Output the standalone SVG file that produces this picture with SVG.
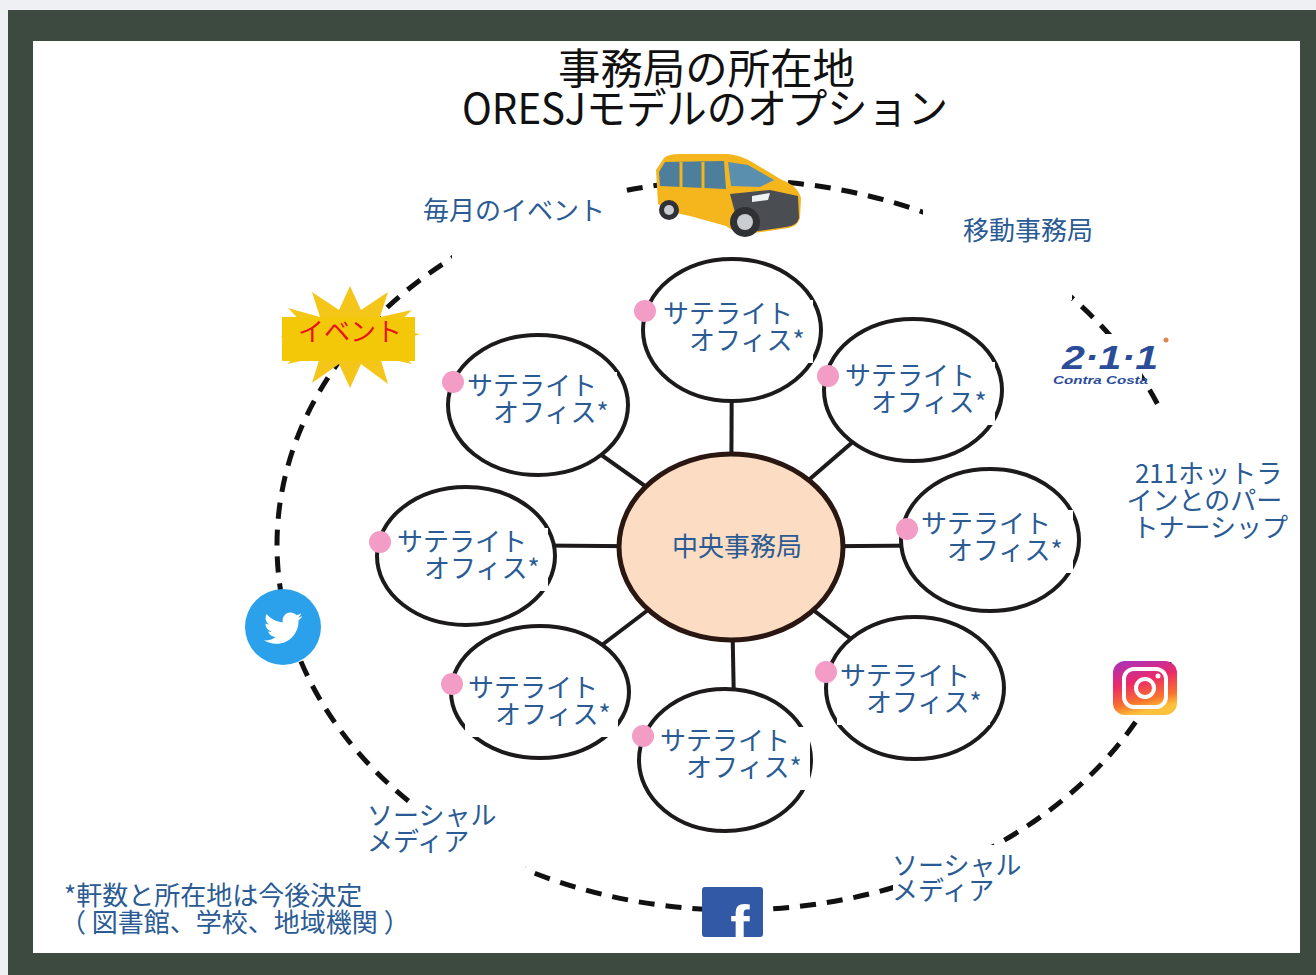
<svg xmlns="http://www.w3.org/2000/svg" width="1316" height="975" viewBox="0 0 1316 975">
  <defs>
    <style>
      .jp { font-family: "Noto Sans CJK JP", "Noto Sans", sans-serif; }
      .lbl { font-family: "Noto Sans CJK JP", "Noto Sans", sans-serif; font-size: 26px; fill: #2a5b94; }
      .sat { fill: #ffffff; stroke: #1c1a1a; stroke-width: 4; }
      .box { fill: #ffffff; }
      .dot { fill: #f39cc6; }
      .spoke { stroke: #1c1a1a; stroke-width: 4; }
      .cover { fill: #ffffff; }
    </style>
    <linearGradient id="igGrad" x1="0" y1="0" x2="0.3" y2="1">
      <stop offset="0" stop-color="#a532c4"/>
      <stop offset="0.45" stop-color="#ec2a68"/>
      <stop offset="0.8" stop-color="#f9722c"/>
      <stop offset="1" stop-color="#fcc23c"/>
    </linearGradient>
    <clipPath id="fbClip">
      <rect x="702" y="887" width="61" height="50" rx="3"/>
    </clipPath>
  </defs>

  <!-- page background and frame -->
  <rect x="0" y="0" width="1316" height="975" fill="#eff0f4"/>
  <rect x="8" y="10" width="1308" height="965" fill="#3c4a40"/>
  <rect x="33" y="41" width="1267" height="912" fill="#ffffff"/>

  <!-- title -->
  <g id="title" class="jp" fill="#111111" font-size="42" font-weight="400">
    <text x="558" y="84" textLength="297" lengthAdjust="spacingAndGlyphs">事務局の所在地</text>
    <text x="462" y="124" textLength="486" lengthAdjust="spacingAndGlyphs">ORESJモデルのオプション</text>
  </g>

  <!-- outer dashed ring with openings behind labels and icons -->
  <g id="connectors">
    <ellipse cx="735" cy="545" rx="458" ry="365" fill="none" stroke="#111111" stroke-width="5" stroke-dasharray="16 11"/>
    <rect class="cover" x="452" y="178" width="166" height="84"/>
    <rect class="cover" x="923" y="195" width="149" height="105"/>
    <rect class="cover" x="1102" y="334" width="40" height="58"/>
    <rect class="cover" x="1125" y="408" width="175" height="254"/>
    <rect class="cover" x="893" y="845" width="137" height="63"/>
    <rect class="cover" x="408" y="806" width="117" height="76"/>
    <!-- hub spokes -->
    <line class="spoke" x1="731" y1="547" x2="732" y2="330"/>
    <line class="spoke" x1="731" y1="547" x2="913" y2="390"/>
    <line class="spoke" x1="731" y1="547" x2="990" y2="545"/>
    <line class="spoke" x1="731" y1="547" x2="915" y2="688"/>
    <line class="spoke" x1="731" y1="547" x2="735" y2="760"/>
    <line class="spoke" x1="731" y1="547" x2="540" y2="692"/>
    <line class="spoke" x1="731" y1="547" x2="465" y2="545"/>
    <line class="spoke" x1="731" y1="547" x2="538" y2="410"/>
  </g>

  <!-- central office -->
  <g id="hub">
    <ellipse cx="731" cy="547" rx="112" ry="93" fill="#fcdcc2" stroke="#2a1712" stroke-width="5"/>
    <text class="lbl" x="737" y="556" text-anchor="middle">中央事務局</text>
  </g>

  <!-- satellite offices -->
  <g id="sat-top">
    <ellipse class="sat" cx="732" cy="330" rx="89" ry="71"/>
    <rect class="box" x="660" y="300" width="153" height="63"/>
    <circle class="dot" cx="645" cy="311" r="11"/>
    <text class="lbl"><tspan x="663" y="323">サテライト</tspan><tspan x="689" y="350">オフィス*</tspan></text>
  </g>
  <g id="sat-top-right">
    <ellipse class="sat" cx="913" cy="390" rx="89" ry="71"/>
    <rect class="box" x="842" y="362" width="153" height="63"/>
    <circle class="dot" cx="828" cy="376" r="11"/>
    <text class="lbl"><tspan x="845" y="385">サテライト</tspan><tspan x="871" y="412">オフィス*</tspan></text>
  </g>
  <g id="sat-right">
    <ellipse class="sat" cx="990" cy="540" rx="89" ry="71"/>
    <rect class="box" x="918" y="510" width="155" height="63"/>
    <circle class="dot" cx="907" cy="529" r="11"/>
    <text class="lbl"><tspan x="921" y="533">サテライト</tspan><tspan x="947" y="560">オフィス*</tspan></text>
  </g>
  <g id="sat-bottom-right">
    <ellipse class="sat" cx="915" cy="688" rx="89" ry="71"/>
    <rect class="box" x="837" y="662" width="153" height="63"/>
    <circle class="dot" cx="826" cy="672" r="11"/>
    <text class="lbl"><tspan x="840" y="685">サテライト</tspan><tspan x="866" y="712">オフィス*</tspan></text>
  </g>
  <g id="sat-bottom">
    <ellipse class="sat" cx="725" cy="760" rx="86" ry="71"/>
    <rect class="box" x="657" y="727" width="153" height="63"/>
    <circle class="dot" cx="643" cy="736" r="11"/>
    <text class="lbl"><tspan x="660" y="750">サテライト</tspan><tspan x="686" y="777">オフィス*</tspan></text>
  </g>
  <g id="sat-bottom-left">
    <ellipse class="sat" cx="540" cy="692" rx="89" ry="66"/>
    <rect class="box" x="465" y="674" width="153" height="63"/>
    <circle class="dot" cx="452" cy="684" r="11"/>
    <text class="lbl"><tspan x="468" y="697">サテライト</tspan><tspan x="495" y="724">オフィス*</tspan></text>
  </g>
  <g id="sat-left">
    <ellipse class="sat" cx="466" cy="556" rx="89" ry="69"/>
    <rect class="box" x="394" y="528" width="154" height="63"/>
    <circle class="dot" cx="380" cy="542" r="11"/>
    <text class="lbl"><tspan x="397" y="551">サテライト</tspan><tspan x="424" y="578">オフィス*</tspan></text>
  </g>
  <g id="sat-top-left">
    <ellipse class="sat" cx="538" cy="405" rx="90" ry="70"/>
    <rect class="box" x="464" y="372" width="153" height="63"/>
    <circle class="dot" cx="453" cy="382" r="11"/>
    <text class="lbl"><tspan x="467" y="395">サテライト</tspan><tspan x="493" y="422">オフィス*</tspan></text>
  </g>

  <!-- mobile office van -->
  <g id="van">
    <path d="M656 170 L664 158 Q668 154 680 154 L728 154 Q740 155 752 162 L782 180 Q798 186 801 198 L800 218 Q798 226 788 228 L748 234 Q735 233 726 226 L690 216 Q668 212 658 204 Z" fill="#f5b51d"/>
    <path d="M659 172 L665 162 L724 161 L726 189 L660 186 Z" fill="#4d7e9c"/>
    <line x1="681" y1="162" x2="681" y2="187" stroke="#f5b51d" stroke-width="3"/>
    <line x1="703" y1="162" x2="703" y2="188" stroke="#f5b51d" stroke-width="3"/>
    <path d="M728 162 L748 165 L774 180 L760 187 L731 186 Z" fill="#5b8fae"/>
    <path d="M730 194 L770 190 L798 196 L799 218 Q797 226 786 227 L752 232 L738 224 Z" fill="#4a4d52"/>
    <path d="M752 196 L770 193 L768 200 L752 202 Z" fill="#eef2f4"/>
    <circle cx="745" cy="222" r="15" fill="#2f3134"/>
    <circle cx="745" cy="222" r="8" fill="#c9ccd0"/>
    <circle cx="669" cy="210" r="10" fill="#2f3134"/>
    <circle cx="669" cy="210" r="5" fill="#c9ccd0"/>
  </g>

  <!-- events -->
  <g id="event">
    <polygon points="420,334 391,344 412,364 380,357 388,384 361,364 350,388 339,364 312,383 320,357 287,364 309,344 280,337 309,330 288,308 320,317 312,292 339,310 350,286 361,310 388,292 380,317 412,310 391,330" fill="#f5c61a"/>
    <rect x="282" y="317" width="133" height="44" fill="#f3c808"/>
    <text class="jp" x="298" y="341" font-size="26" fill="#e8141c">イベント</text>
  </g>

  <!-- 211 Contra Costa logo -->
  <g id="logo-211">
    <text font-family="Liberation Sans, Arial, sans-serif" font-weight="bold" font-style="italic" fill="#2b4d97">
      <tspan x="1062" y="369" font-size="34" textLength="96" lengthAdjust="spacingAndGlyphs">2·1·1</tspan>
      <tspan x="1053" y="384" font-size="11" textLength="95" lengthAdjust="spacingAndGlyphs">Contra Costa</tspan>
    </text>
    <circle cx="1166" cy="340" r="2.5" fill="#e0874a"/>
  </g>

  <!-- twitter -->
  <g id="twitter">
    <circle cx="283" cy="627" r="38" fill="#2aa1ea"/>
    <path transform="translate(264,609) scale(1.6)" fill="#ffffff" d="M23.954 4.569c-.885.389-1.830.654-2.825.775 1.014-.611 1.794-1.574 2.163-2.723-.951.555-2.005.959-3.127 1.184-.896-.959-2.173-1.559-3.591-1.559-2.717 0-4.920 2.203-4.920 4.917 0 .39.045.765.127 1.124C7.691 8.094 4.066 6.130 1.640 3.161c-.427.722-.666 1.561-.666 2.475 0 1.710.870 3.213 2.188 4.096-.807-.026-1.566-.248-2.228-.616v.061c0 2.385 1.693 4.374 3.946 4.827-.413.111-.849.171-1.296.171-.314 0-.615-.030-.916-.086.631 1.953 2.445 3.377 4.604 3.417-1.680 1.319-3.809 2.105-6.102 2.105-.390 0-.779-.023-1.170-.067 2.189 1.394 4.768 2.209 7.557 2.209 9.054 0 13.999-7.496 13.999-13.986 0-.209 0-.420-.015-.630.961-.689 1.800-1.560 2.460-2.548l-.047-.020z"/>
  </g>

  <!-- instagram -->
  <g id="instagram">
    <rect x="1113" y="661" width="64" height="54" rx="12" fill="url(#igGrad)"/>
    <rect x="1124" y="669" width="42" height="38" rx="10" fill="none" stroke="#ffffff" stroke-width="4"/>
    <circle cx="1145" cy="688" r="9" fill="none" stroke="#ffffff" stroke-width="4"/>
    <circle cx="1158" cy="676" r="2.5" fill="#ffffff"/>
  </g>

  <!-- facebook -->
  <g id="facebook">
    <rect x="702" y="887" width="61" height="50" rx="3" fill="#3159a6"/>
    <text x="740" y="946" clip-path="url(#fbClip)" font-family="Liberation Sans, Arial, sans-serif" font-size="58" font-weight="bold" fill="#ffffff" text-anchor="middle">f</text>
  </g>

  <!-- ring labels -->
  <g id="labels">
    <text class="lbl" x="423" y="220">毎月のイベント</text>
    <text class="lbl" x="963" y="240">移動事務局</text>
    <text class="lbl" text-anchor="end">
      <tspan x="1288" y="483">211ホットラ</tspan>
      <tspan x="1288" y="510">インとのパー</tspan>
      <tspan x="1288" y="537">トナーシップ</tspan>
    </text>
    <text class="lbl"><tspan x="367" y="825">ソーシャル</tspan><tspan x="367" y="851">メディア</tspan></text>
    <text class="lbl"><tspan x="892" y="875">ソーシャル</tspan><tspan x="892" y="900">メディア</tspan></text>
  </g>

  <!-- footnote -->
  <g id="note">
    <text class="lbl">
      <tspan x="64" y="905">*軒数と所在地は今後決定</tspan>
      <tspan x="60" y="932">（ 図書館、学校、地域機関 ）</tspan>
    </text>
  </g>
</svg>
